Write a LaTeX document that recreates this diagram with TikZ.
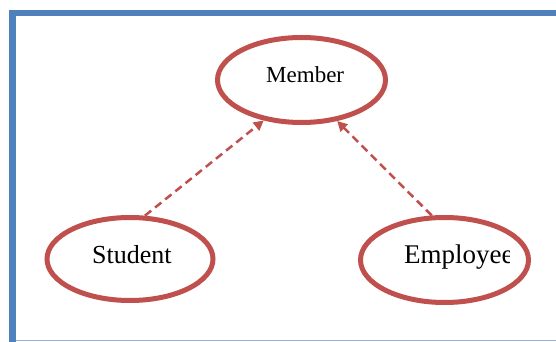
\documentclass[tikz,border=0pt]{standalone}
\usepackage{fontspec}
\setmainfont{Liberation Serif}
\usetikzlibrary{shapes.geometric,arrows.meta}
\definecolor{frameblue}{HTML}{4F81BD}
\definecolor{linered}{HTML}{C0504D}
\definecolor{edgeblue}{HTML}{95B3D7}
\tikzset{
  entity/.style={draw=linered, line width=5pt, ellipse, inner sep=0pt, fill=white},
  isa/.style={draw=linered, line width=2.5pt, dash pattern=on 8pt off 5pt,
    -{Triangle[length=10pt,width=10pt]}},
  lbl/.style={anchor=base west, inner sep=0pt, text=black},
}
\begin{document}
\begin{tikzpicture}[x=1pt,y=1pt]
\useasboundingbox (0,0) rectangle (556,342);
% frame
\fill[frameblue] (9,0) rectangle (16,332);
\fill[frameblue] (9,326) rectangle (556,332);
\draw[edgeblue, line width=1pt] (16,1) -- (556,1);
% entities
\node[entity, minimum width=168pt, minimum height=85pt] (m) at (301.5,262) {};
\node[entity, minimum width=166pt, minimum height=83pt] (s) at (130,83) {};
\node[entity, minimum width=168pt, minimum height=85pt] (e) at (444.5,82) {};
% labels
\node[lbl, font=\fontsize{23}{26}\selectfont] (mt) at (266,259) {Member};
\node[lbl, font=\fontsize{26}{29}\selectfont] (st) at (92,78) {Student};
\begin{scope}
\clip (360,50) rectangle (509.5,115);
\node[lbl, font=\fontsize{27}{30}\selectfont] (et) at (404,78) {Employee};
\end{scope}
% connectors
\draw[isa] (s.71) -- (m.227);
\draw[isa] (e.106) -- (m.311);
\end{tikzpicture}
\end{document}
